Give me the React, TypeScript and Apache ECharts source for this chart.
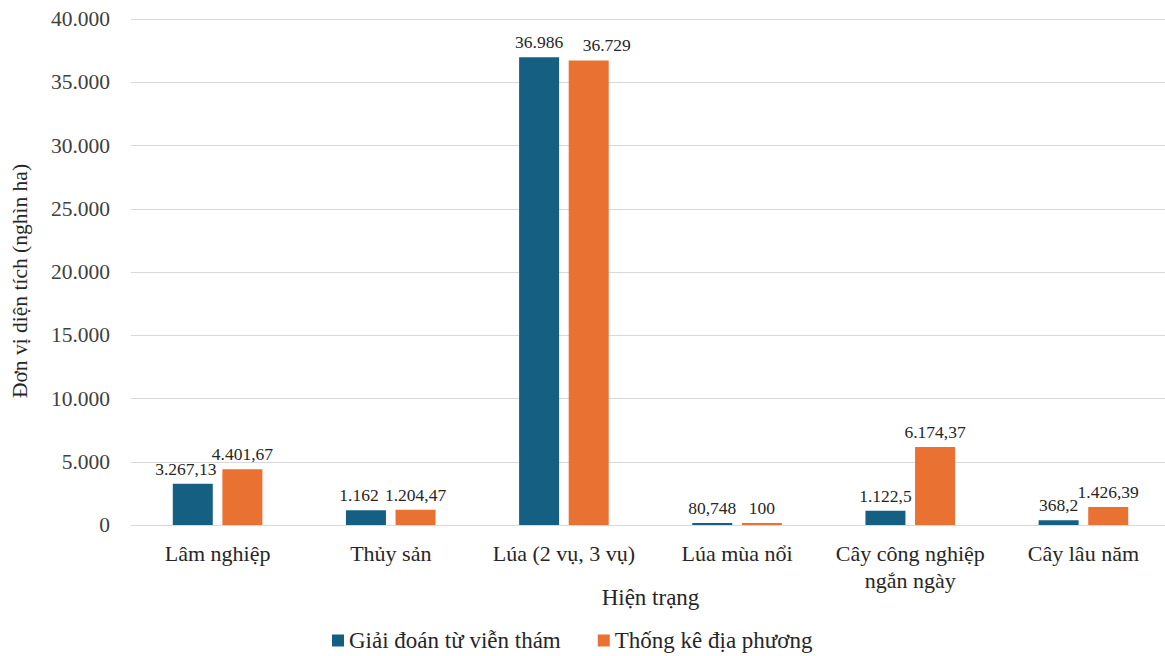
import React, { useEffect, useRef } from "react";
import * as echarts from "echarts";

const categories = [
  "Lâm nghiệp",
  "Thủy sản",
  "Lúa (2 vụ, 3 vụ)",
  "Lúa mùa nổi",
  "Cây công nghiệp\nngắn ngày",
  "Cây lâu năm",
];
const remoteSensing = [3267.13, 1162, 36986, 80.748, 1122.5, 368.2];
const localStats = [4401.67, 1204.47, 36729, 100, 6174.37, 1426.39];
const seriesNames = ["Giải đoán từ viễn thám", "Thống kê địa phương"];

const fmt = (v: number) =>
  v.toLocaleString("de-DE", { maximumFractionDigits: 3 });

const FONT = "'Liberation Serif', 'Times New Roman', serif";

export default function App() {
  const ref = useRef<HTMLDivElement>(null);
  useEffect(() => {
    if (!ref.current) return;
    const chart = echarts.init(ref.current, null, { renderer: "svg" });
    const label = {
      show: true,
      position: "top" as const,
      distance: 6,
      fontFamily: FONT,
      fontSize: 17.5,
      color: "#262626",
      formatter: (p: any) => fmt(p.value),
    };
    // label nudges (Excel-style overlap avoidance)
    const blueOffsets: Record<number, number[]> = { 0: [-7, 0], 1: [-7, 0] };
    const orangeOffsets: Record<number, number[]> = { 2: [18, 0] };
    const blueData = remoteSensing.map((v, i) =>
      blueOffsets[i] ? { value: v, label: { offset: blueOffsets[i] } } : v
    );
    const orangeData = localStats.map((v, i) =>
      orangeOffsets[i] ? { value: v, label: { offset: orangeOffsets[i] } } : v
    );
    chart.setOption({
      animation: false,
      textStyle: { fontFamily: FONT },
      grid: {
        left: 131,
        right: -5,
        top: 19,
        bottom: 131,
        containLabel: false,
        outerBoundsMode: "none",
      },
      legend: {
        top: 624,
        left: 327,
        itemWidth: 12,
        itemHeight: 12,
        itemGap: 37,
        icon: "rect",
        textStyle: { fontFamily: FONT, fontSize: 23, color: "#262626" },
        data: seriesNames,
      },
      xAxis: {
        type: "category",
        data: categories,
        name: "Hiện trạng",
        nameLocation: "middle",
        nameGap: 61,
        nameMoveOverlap: false,
        nameTextStyle: { fontFamily: FONT, fontSize: 23, color: "#262626" },
        axisLine: { lineStyle: { color: "#d9d9d9" } },
        axisTick: { show: false },
        axisLabel: {
          fontFamily: FONT,
          fontSize: 22,
          color: "#262626",
          margin: 15,
          lineHeight: 27,
          interval: 0,
        },
      },
      yAxis: {
        type: "value",
        min: 0,
        max: 40000,
        interval: 5000,
        name: "Đơn vị diện tích (nghìn ha)",
        nameLocation: "middle",
        nameGap: 100,
        nameMoveOverlap: false,
        nameTextStyle: {
          fontFamily: FONT,
          fontSize: 21.5,
          color: "#262626",
          padding: [0, 18, 0, 0],
        },
        axisLine: { show: false },
        axisTick: { show: false },
        splitLine: { lineStyle: { color: "#d9d9d9" } },
        axisLabel: {
          fontFamily: FONT,
          fontSize: 21.5,
          color: "#404040",
          margin: 21,
          formatter: (v: number) => fmt(v),
        },
      },
      series: [
        {
          name: seriesNames[0],
          type: "bar",
          data: blueData,
          barWidth: 40,
          barGap: "24%",
          barMinHeight: 2,
          itemStyle: { color: "#156082" },
          label,
        },
        {
          name: seriesNames[1],
          type: "bar",
          data: orangeData,
          barWidth: 40,
          barGap: "24%",
          barMinHeight: 2,
          itemStyle: { color: "#E97132" },
          label,
        },
      ],
    });
    return () => chart.dispose();
  }, []);
  return (
    <div
      ref={ref}
      style={{ position: "absolute", left: 0, top: 0, width: 1165, height: 656, background: "#fff" }}
    />
  );
}
